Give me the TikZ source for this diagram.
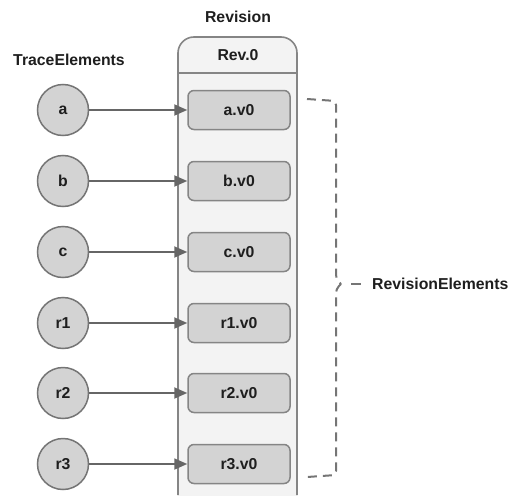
\documentclass[tikz,border=0pt]{standalone}
\usepackage{fontspec}
\setmainfont{Liberation Sans}
\usetikzlibrary{arrows.meta}
\definecolor{elemfill}{HTML}{D3D3D3}
\definecolor{elemline}{HTML}{757575}
\definecolor{revfill}{HTML}{F3F3F3}
\definecolor{revline}{HTML}{858585}
\definecolor{arrowgray}{HTML}{666666}
\definecolor{textdark}{HTML}{1E1E1E}
\begin{document}
\begin{tikzpicture}[
    x=1pt, y=-1pt,
    font=\fontsize{15.8}{18}\selectfont\bfseries, text=textdark,
    elem/.style={circle, draw=elemline, fill=elemfill, line width=1.5pt, minimum size=51pt, inner sep=0pt},
    version/.style={rectangle, rounded corners=6pt, draw=revline, fill=elemfill, line width=1.5pt, minimum width=102pt, minimum height=39pt, inner sep=0pt},
    trace/.style={-{Triangle[length=13pt,width=11pt]}, draw=arrowgray, line width=1.8pt},
    group/.style={draw=elemline, line width=2pt, dash pattern=on 9pt off 6pt}
  ]
  \useasboundingbox (0,0) rectangle (511,495);

  % Revision container
  \fill[revfill, rounded corners=16pt] (178,500) -- (178,37) -- (297,37) -- (297,500);
  \draw[revline, line width=1.6pt, rounded corners=16pt] (178,495) -- (178,37) -- (297,37) -- (297,495);
  \draw[revline, line width=1.6pt] (178,73) -- (297,73);

  % Headings
  \node (revision) at (238,17) {Revision};
  \node (traceelems) at (69,60) {TraceElements};
  \node (rev0) at (238,55) {Rev.0};

  % Trace elements
  \node[elem] (a) at (63,110) {a};
  \node[elem] (b) at (63,181) {b};
  \node[elem] (c) at (63,252) {c};
  \node[elem] (r1) at (63,323) {r1};
  \node[elem] (r2) at (63,393) {r2};
  \node[elem] (r3) at (63,464) {r3};

  % Revision elements
  \node[version] (av0) at (239,110) {a.v0};
  \node[version] (bv0) at (239,181) {b.v0};
  \node[version] (cv0) at (239,252) {c.v0};
  \node[version] (r1v0) at (239,323) {r1.v0};
  \node[version] (r2v0) at (239,393) {r2.v0};
  \node[version] (r3v0) at (239,464) {r3.v0};

  % Links from trace elements to revision elements
  \draw[trace] (a) -- (av0);
  \draw[trace] (b) -- (bv0);
  \draw[trace] (c) -- (cv0);
  \draw[trace] (r1) -- (r1v0);
  \draw[trace] (r2) -- (r2v0);
  \draw[trace] (r3) -- (r3v0);

  % Brace over the revision elements
  \node[anchor=west, inner sep=0pt] (revelems) at (372,284) {RevisionElements};
  \coordinate (tip) at (341,284);
  \draw[group, rounded corners=4pt] (307,99) -- (336,101) -- (336,279) -- (tip);
  \draw[group, rounded corners=4pt] (tip) -- (336,289) -- (336,475) -- (307,477);
  \draw[group, dash pattern=on 0pt off 10pt on 10pt off 20pt] (tip) -- (revelems.west);

\end{tikzpicture}
\end{document}
